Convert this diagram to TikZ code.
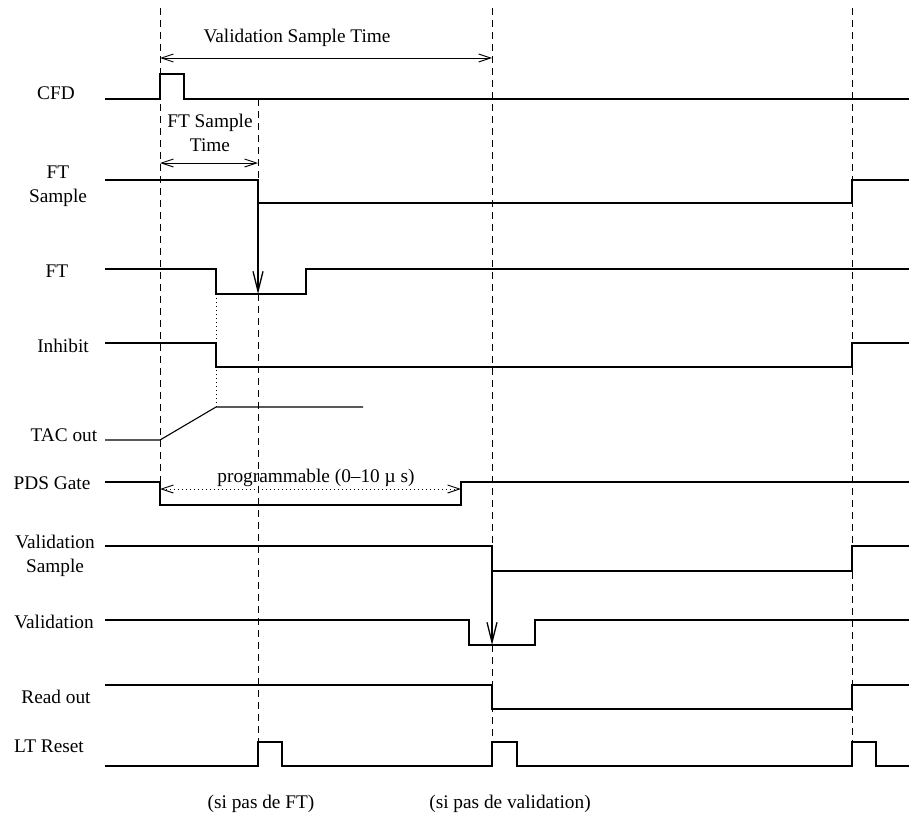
\documentclass[tikz,border=0pt]{standalone}
\usepackage{fontspec}
\setmainfont{Liberation Serif}
\usetikzlibrary{arrows.meta}
\tikzset{
  sig/.style={draw=black,line width=1.1pt},
  guide/.style={draw=black,line width=.9pt,dash pattern=on 7pt off 5pt},
  dots/.style={draw=black,line width=.9pt,dash pattern=on 1pt off 3pt},
  lbl/.style={anchor=base,align=center,inner sep=0pt,font=\fontsize{19.3}{23.5}\selectfont},
  ar/.style={-{Straight Barb[length=20pt,width=10pt]},draw=black,line width=1.3pt},
  dim/.style={{Straight Barb[length=12pt,width=8pt]}-{Straight Barb[length=12pt,width=8pt]},draw=black,line width=.9pt},
  dimd/.style={dim,dash pattern=on 1pt off 3pt},
}

\begin{document}
\begin{tikzpicture}[x=1pt,y=-1pt]
  \useasboundingbox (0,0) rectangle (909,816);

  % signal names
  \node[lbl] (l-cfd) at (56,99) {CFD};
  \node[lbl,anchor=north] (l-fts) at (58,166) {FT\\Sample};
  \node[lbl] (l-ft) at (57,277) {FT};
  \node[lbl] (l-inh) at (63,352) {Inhibit};
  \node[lbl] (l-tac) at (64,441) {TAC out};
  \node[lbl] (l-pds) at (52,489) {PDS Gate};
  \node[lbl,anchor=north] (l-vs) at (55,535) {Validation\\Sample};
  \node[lbl] (l-val) at (54,628) {Validation};
  \node[lbl] (l-ro) at (56,703) {Read out};
  \node[lbl] (l-ltr) at (49,752) {LT Reset};

  % time marks
  \draw[guide] (160,8) -- (160,482);
  \draw[guide] (258,99) -- (258,180);
  \draw[guide] (258,294) -- (258,742);
  \draw[guide] (492,8) -- (492,546);
  \draw[guide] (492,645) -- (492,742);
  \draw[guide] (852,8) -- (852,742);
  \draw[dots] (216,294) -- (216,407);

  % waveforms
  \draw[sig] (105,99) -- (160,99) -- (160,74) -- (184,74) -- (184,99) -- (909,99);
  \draw[sig] (105,180) -- (258,180) -- (258,203) -- (852,203) -- (852,180) -- (909,180);
  \draw[sig] (105,269) -- (216,269) -- (216,294) -- (306,294) -- (306,269) -- (909,269);
  \draw[sig] (105,343) -- (216,343) -- (216,367) -- (852,367) -- (852,343) -- (909,343);
  \draw[sig] (105,440) -- (160,440) -- (216,407) -- (363,407);
  \draw[sig] (105,482) -- (160,482) -- (160,505) -- (461,505) -- (461,482) -- (909,482);
  \draw[sig] (105,546) -- (492,546) -- (492,571) -- (852,571) -- (852,546) -- (909,546);
  \draw[sig] (105,620) -- (469,620) -- (469,645) -- (535,645) -- (535,620) -- (909,620);
  \draw[sig] (105,685) -- (492,685) -- (492,709) -- (852,709) -- (852,685) -- (909,685);
  \draw[sig] (105,766) -- (258,766) -- (258,742) -- (282,742) -- (282,766)
    -- (492,766) -- (492,742) -- (517,742) -- (517,766)
    -- (852,766) -- (852,742) -- (876,742) -- (876,766) -- (909,766);

  % intervals
  \coordinate (vst-a) at (160,58);
  \coordinate (vst-b) at (492,58);
  \coordinate (fst-a) at (160,163);
  \coordinate (fst-b) at (258,163);
  \coordinate (pds-a) at (160,489);
  \coordinate (pds-b) at (461,489);
  \draw[dim] (vst-a) -- (vst-b);
  \node[lbl] (t-vst) at (297,42) {Validation Sample Time};
  \draw[dim] (fst-a) -- (fst-b);
  \node[lbl,anchor=north] (t-fst) at (210,114) {FT Sample\\Time};
  \draw[dimd] (pds-a) -- (pds-b);
  \node[lbl] (t-pds) at (316,482) {programmable (0–10 µ s)};

  % sampling arrows
  \coordinate (fts-fall) at (258,180);
  \coordinate (ft-low) at (258,294);
  \coordinate (vs-fall) at (492,546);
  \coordinate (val-low) at (492,645);
  \draw[ar] (fts-fall) -- (ft-low);
  \draw[ar] (vs-fall) -- (val-low);

  \node[lbl] (n-ft) at (261,808) {(si pas de FT)};
  \node[lbl] (n-val) at (510,808) {(si pas de validation)};
\end{tikzpicture}
\end{document}
